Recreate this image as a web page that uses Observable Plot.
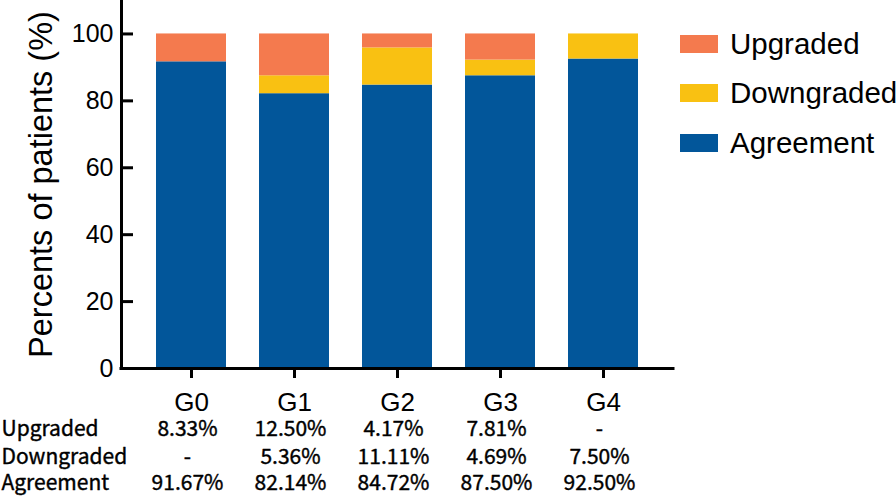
<!DOCTYPE html>
<html>
<head>
<meta charset="utf-8">
<script src="https://cdn.jsdelivr.net/npm/d3@7"></script>
<script src="https://cdn.jsdelivr.net/npm/@observablehq/plot@0.6"></script>
<style>
  html, body { margin: 0; padding: 0; background: #fff; }
  #wrap { position: relative; width: 896px; height: 496px; overflow: hidden; font-family: "Liberation Sans", Arial, sans-serif; }
  #legend { position: absolute; left: 680px; top: 0; }
  .item { position: absolute; left: 0; display: flex; align-items: center; height: 30px; white-space: nowrap; }
  .sw { width: 38px; height: 18px; margin-right: 12px; }
  .lt { font-size: 29.5px; color: #000; }
</style>
</head>
<body>
<div id="wrap"></div>
<script>
const groups = ["G0", "G1", "G2", "G3", "G4"];
const agreement = [91.67, 82.14, 84.72, 87.50, 92.50];
const downgraded = [0, 5.36, 11.11, 4.69, 7.50];
const upgraded = [8.33, 12.50, 4.17, 7.81, 0];
const statuses = ["Upgraded", "Downgraded", "Agreement"];
const colors = ["#F47A4E", "#F9C112", "#02569A"];
const yTicks = [0, 20, 40, 60, 80, 100];
const yLabel = "Percents of patients (%)";

const rows = [];
groups.forEach((g, i) => {
  rows.push({group: g, status: "Agreement", value: agreement[i]});
  rows.push({group: g, status: "Downgraded", value: downgraded[i]});
  rows.push({group: g, status: "Upgraded", value: upgraded[i]});
});
const fmt = v => v === 0 ? "-" : v.toFixed(2) + "%";
const table = [
  {name: "Upgraded", vals: upgraded, dy: 67},
  {name: "Downgraded", vals: downgraded, dy: 95},
  {name: "Agreement", vals: agreement, dy: 121}
];

const W = 896, H = 496, ML = 121, MR = 223, MT = 0, MB = 128;
const frameW = W - ML - MR;
const tableFont = "'Noto Sans CJK SC', 'Noto Sans', sans-serif";
const tableStyle = {fontSize: 21, fontFamily: tableFont, fill: "#000", stroke: "#000", strokeWidth: 0.4};

const marks = [
  Plot.barY(rows, {x: "group", y: "value", fill: "status"}),
  Plot.ruleY(yTicks.slice(1), {stroke: "#000", strokeWidth: 3, insetRight: frameW - 12}),
  Plot.ruleY([0], {stroke: "#000", strokeWidth: 3, strokeLinecap: "square"}),
  Plot.frame({anchor: "left", stroke: "#000", strokeWidth: 3, strokeLinecap: "square"}),
  Plot.axisY({ticks: yTicks, tickSize: 0, tickPadding: 8, fontSize: 25, label: null}),
  Plot.axisX({tickSize: 10, tickPadding: 14, strokeWidth: 3, fontSize: 26, label: null}),
  Plot.text([yLabel], {frameAnchor: "left", textAnchor: "middle", rotate: -90, dx: -80, fontSize: 32.5, fill: "#000"})
];
table.forEach(r => {
  marks.push(Plot.text([r.name], {frameAnchor: "bottom-left", dx: -ML + 1, dy: r.dy, textAnchor: "start", ...tableStyle}));
  marks.push(Plot.text(groups, {x: d => d, text: (d, i) => fmt(r.vals[i]), frameAnchor: "bottom", dy: r.dy, dx: -4, ...tableStyle}));
});

const chart = Plot.plot({
  width: W, height: H,
  marginLeft: ML, marginRight: MR, marginTop: MT, marginBottom: MB,
  style: {fontFamily: "'Liberation Sans', Arial, sans-serif", fontSize: "25px", color: "#000", background: "#fff", overflow: "visible"},
  x: {domain: groups, paddingInner: 0.32, paddingOuter: 0.33},
  y: {domain: [0, 110]},
  color: {domain: statuses, range: colors},
  marks
});
const wrap = document.getElementById("wrap");
wrap.appendChild(chart);

const legend = document.createElement("div");
legend.id = "legend";
const tops = [29, 78, 128];
statuses.forEach((s, i) => {
  const it = document.createElement("div");
  it.className = "item";
  it.style.top = tops[i] + "px";
  const sw = document.createElement("div");
  sw.className = "sw";
  sw.style.background = colors[i];
  const t = document.createElement("span");
  t.className = "lt";
  t.textContent = s;
  it.appendChild(sw); it.appendChild(t);
  legend.appendChild(it);
});
wrap.appendChild(legend);
</script>
</body>
</html>
